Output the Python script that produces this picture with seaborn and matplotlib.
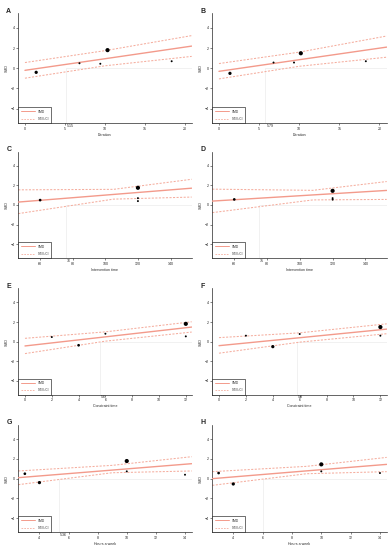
import numpy as np
import pandas as pd
import seaborn as sns
import matplotlib
matplotlib.use("Agg")
import matplotlib.pyplot as plt
from matplotlib.lines import Line2D

# ---------------- data ----------------
panel_letters = ["A", "B", "C", "D", "E", "F", "G", "H"]
x_titles = ["Duration", "Duration", "Intervention time", "Intervention time",
            "Constraint time", "Constraint time", "Hours a week", "Hours a week"]
x_ticks = [[0, 5, 10, 15, 20], [0, 5, 10, 15, 20],
           [60, 80, 100, 120, 140], [60, 80, 100, 120, 140],
           [0, 2, 4, 6, 8, 10, 12], [0, 2, 4, 6, 8, 10, 12],
           [4, 6, 8, 10, 12, 14], [4, 6, 8, 10, 12, 14]]
x_limits = [(-0.83, 20.8), (-0.83, 20.9), (46.6, 153), (46.6, 153),
            (-0.5, 12.44), (-0.5, 12.47), (2.55, 14.46), (2.57, 14.46)]
y_ticks = [-4, -2, 0, 2, 4]
thresholds = [5.15, 5.79, 76, 75, 5.6, 5.8, 5.36, 6.0]
threshold_text = ["5.15", "5.79", "76", "75", "5.6", "5.8", "5.36", ""]

# study points (x, effect, weight)
a_x = [1.4, 6.8, 9.4, 10.3, 18.3]
a_y = [-0.4, 0.5, 0.45, 1.8, 0.7]
a_w = [2, 1, 1, 3, 1]
b_x = [1.37, 6.8, 9.35, 10.2, 18.3]
b_y = [-0.5, 0.57, 0.57, 1.49, 0.7]
b_w = [2, 1, 1, 3, 1]
c_x = [60, 120, 120, 120]
c_y = [0.5, 1.76, 0.7, 0.4]
c_w = [1.5, 3, 1, 1]
d_x = [60, 120, 120, 120]
d_y = [0.57, 1.45, 0.7, 0.55]
d_w = [1.5, 3, 1, 1]
e_x = [2, 4, 6, 12, 12]
e_y = [0.47, -0.37, 0.81, 1.82, 0.54]
e_w = [1, 1.5, 1, 3, 1]
f_x = [2, 4, 6, 12, 12]
f_y = [0.61, -0.51, 0.78, 1.49, 0.61]
f_w = [1, 2, 1, 3, 1]
g_x = [3, 4, 10, 10, 14]
g_y = [0.5, -0.4, 1.79, 0.74, 0.4]
g_w = [1.5, 2, 3, 1, 1]
h_x = [3, 4, 10, 10, 14]
h_y = [0.57, -0.54, 1.45, 0.74, 0.57]
h_w = [1.5, 2, 3, 1, 1]

# regression line and 95% CI read at a few x positions
a_cx = [0, 10, 20.8];      a_fit = [-0.2, 0.95, 2.2];  a_lo = [-0.98, 0.25, 1.18]; a_hi = [0.57, 1.75, 3.24]
b_cx = [0, 10, 20.9];      b_fit = [-0.3, 0.85, 2.1];  b_lo = [-1.05, 0.2, 1.1];   b_hi = [0.47, 1.6, 3.2]
c_cx = [46.6, 105, 153];   c_fit = [0.3, 1.08, 1.72];  c_lo = [-0.88, 0.6, 0.81];  c_hi = [1.55, 1.6, 2.63]
d_cx = [46.6, 108, 153];   d_fit = [0.4, 1.03, 1.49];  d_lo = [-0.78, 0.52, 0.57]; d_hi = [1.62, 1.5, 2.4]
e_cx = [0, 6, 12.44];      e_fit = [-0.44, 0.49, 1.49]; e_lo = [-1.22, 0.05, 0.98]; e_hi = [0.34, 1.0, 2.03]
f_cx = [0, 6, 12.47];      f_fit = [-0.41, 0.4, 1.28]; f_lo = [-1.18, -0.05, 0.81]; f_hi = [0.41, 0.9, 1.82]
g_cx = [2.55, 9, 14.46];   g_fit = [0.1, 0.87, 1.52];  g_lo = [-0.61, 0.6, 0.78];  g_hi = [0.78, 1.35, 2.23]
h_cx = [2.57, 9, 14.46];   h_fit = [0.0, 0.79, 1.45];  h_lo = [-0.68, 0.5, 0.71];  h_hi = [0.71, 1.25, 2.16]

points = [(a_x, a_y, a_w), (b_x, b_y, b_w), (c_x, c_y, c_w), (d_x, d_y, d_w),
          (e_x, e_y, e_w), (f_x, f_y, f_w), (g_x, g_y, g_w), (h_x, h_y, h_w)]
fits = [(a_cx, a_fit, a_lo, a_hi), (b_cx, b_fit, b_lo, b_hi), (c_cx, c_fit, c_lo, c_hi),
        (d_cx, d_fit, d_lo, d_hi), (e_cx, e_fit, e_lo, e_hi), (f_cx, f_fit, f_lo, f_hi),
        (g_cx, g_fit, g_lo, g_hi), (h_cx, h_fit, h_lo, h_hi)]

# ---------------- style ----------------
sns.set_style("ticks")
plt.rcParams['font.family'] = ['Liberation Sans', 'DejaVu Sans']

SOLID = "#F39A8B"
DASH = "#F5AE9F"
REF = "#E6E6E6"
DASHSTYLE = (0, (2.0, 1.4))

W, H = 392, 550
fig = plt.figure(figsize=(W / 100, H / 100), dpi=100)

cols = [(18.3, 191.7), (212.3, 386.7)]
rows = [(13.3, 123.3), (151.7, 258.3), (288.3, 395.0), (425.0, 532.3)]
YLIM = (-5.45, 5.45)

for i in range(8):
    r, c = divmod(i, 2)
    l, rr = cols[c]
    t, b = rows[r]
    ax = fig.add_axes([l / W, 1 - b / H, (rr - l) / W, (b - t) / H])

    xlo, xhi = x_limits[i]
    thr = thresholds[i]
    # reference lines
    ax.vlines(thr, YLIM[0], 0, color=REF, lw=0.4, zorder=1)
    ax.hlines(0, thr, xhi, color=REF, lw=0.4, zorder=1)

    cx, fit, lo, hi = fits[i]
    dfl = pd.DataFrame({"x": cx, "fit": fit, "lo": lo, "hi": hi})
    sns.lineplot(data=dfl, x="x", y="hi", color=DASH, lw=0.75, linestyle=DASHSTYLE, ax=ax, zorder=2)
    sns.lineplot(data=dfl, x="x", y="lo", color=DASH, lw=0.75, linestyle=DASHSTYLE, ax=ax, zorder=2)
    sns.lineplot(data=dfl, x="x", y="fit", color=SOLID, lw=1.0, ax=ax, zorder=3)

    px, py, pw = points[i]
    dfp = pd.DataFrame({"x": px, "y": py, "w": pw})
    sns.scatterplot(data=dfp, x="x", y="y", size="w", sizes=(2.0, 9.0), size_norm=(1, 3),
                    color="black", linewidth=0, legend=False, ax=ax, zorder=4)

    ax.set_xlim(xlo, xhi)
    ax.set_ylim(*YLIM)
    ax.set_xticks(x_ticks[i])
    ax.set_yticks(y_ticks)
    ax.tick_params(labelsize=2.6, length=1.2, width=0.4, pad=1.2)
    for s in ("left", "bottom"):
        ax.spines[s].set_linewidth(0.5)
    sns.despine(ax=ax)
    ax.set_xlabel(x_titles[i], fontsize=2.6, labelpad=1.5)
    ax.set_ylabel("SMD", fontsize=2.6, labelpad=1.5)

    if threshold_text[i]:
        ax.annotate(threshold_text[i], xy=(thr, YLIM[0]), xytext=(0.8, -0.3),
                    textcoords="offset points", fontsize=2.6, ha="left", va="top")

    handles = [Line2D([], [], color=SOLID, lw=0.7, label="SMD"),
               Line2D([], [], color=DASH, lw=0.6, linestyle=DASHSTYLE, label="95% CI")]
    leg = ax.legend(handles=handles, loc="lower left", fontsize=2.3, frameon=True,
                    fancybox=False, edgecolor="black", borderaxespad=0, handlelength=4.5,
                    borderpad=0.8, labelspacing=1.0, framealpha=1)
    leg.get_frame().set_linewidth(0.4)

    fig.text((l - 12) / W, 1 - (t - 2) / H, panel_letters[i], fontsize=5,
             fontweight="bold", va="center", ha="left")

fig.savefig("out.png", dpi=100)
